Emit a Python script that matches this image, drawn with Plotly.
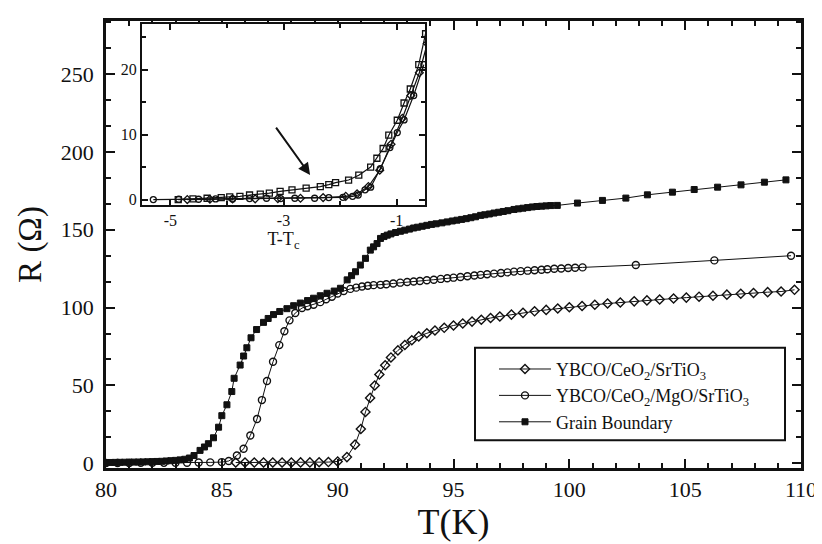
import plotly.graph_objects as go

# Grain Boundary (filled squares)
gb_T = [80.0, 80.2, 80.4, 80.6, 80.8, 81.0, 81.2, 81.4, 81.6, 81.8, 82.0, 82.2, 82.4,
        82.6, 82.8, 83.0, 83.2, 83.4, 83.6, 83.8, 84.06, 84.25, 84.42, 84.64, 84.86,
        85.0, 85.22, 85.43, 85.53, 85.79, 85.94, 86.08, 86.26, 86.5, 86.8, 87.0, 87.23,
        87.5, 87.81, 88.1, 88.39, 88.7, 88.96, 89.25, 89.54, 89.85, 90.12, 90.41, 90.6,
        90.77, 90.98, 91.2, 91.41, 91.55, 91.7, 91.85, 92.0, 92.14, 92.3, 92.5, 92.71,
        92.9, 93.1, 93.28, 93.45, 93.65, 93.85, 94.05, 94.25, 94.5, 94.73, 94.95, 95.15,
        95.35, 95.55, 95.75, 95.95, 96.17, 96.35, 96.55, 96.75, 96.95, 97.15, 97.35,
        97.61, 97.8, 98.0, 98.2, 98.4, 98.6, 98.8, 99.0, 99.2, 99.48, 100.35, 101.43,
        102.44, 103.37, 104.45, 105.39, 106.4, 107.41, 108.42, 109.35]
gb_R = [0.5, 0.55, 0.6, 0.65, 0.7, 0.75, 0.8, 0.85, 0.9, 1.0, 1.1, 1.2, 1.3,
        1.5, 1.7, 1.9, 2.2, 2.6, 3.4, 5.0, 8.3, 10.5, 12.6, 16.4, 23.2,
        30.6, 37.6, 46.1, 54.6, 63.1, 68.9, 74.2, 80.6, 85.9, 90.5, 93.0, 95.5,
        97.5, 99.3, 101.2, 102.9, 104.5, 106.0, 107.6, 109.2, 110.6, 112.4, 117.8, 120.5,
        123.0, 127.3, 131.6, 136.9, 139.0, 141.1, 144.4, 145.6, 146.5, 147.3, 148.2, 149.0,
        149.7, 150.4, 151.1, 151.6, 152.2, 152.8, 153.4, 153.8, 154.4, 155.0, 155.6, 156.1,
        156.6, 157.1, 157.7, 158.3, 159.2, 159.6, 160.1, 160.7, 161.2, 161.7, 162.2,
        163.0, 163.4, 163.8, 164.2, 164.6, 164.9, 165.1, 165.3, 165.5, 165.6, 167.1, 168.8,
        170.3, 172.4, 174.1, 175.8, 177.3, 178.8, 180.5, 182.0]

# YBCO/CeO2/MgO/SrTiO3 (open circles)
mg_T = [80.0, 80.5, 81.0, 81.5, 82.0, 82.5, 83.0, 83.5, 84.0, 84.5, 85.0, 85.3,
        85.65, 85.94, 86.23, 86.52, 86.73, 86.95, 87.21, 87.48, 87.7, 87.92, 88.17,
        88.46, 88.7, 88.96, 89.25, 89.5, 89.75, 90.0, 90.26, 90.55, 90.8, 91.05, 91.3,
        91.55, 91.85, 92.1, 92.4, 92.7, 93.0, 93.28, 93.55, 93.85, 94.15, 94.45, 94.73,
        95.0, 95.3, 95.6, 95.9, 96.17, 96.45, 96.75, 97.05, 97.33, 97.61, 97.9, 98.2,
        98.5, 98.8, 99.05, 99.35, 99.65, 99.95, 100.25, 100.57, 102.87, 106.26, 109.57]
mg_R = [0.2, 0.2, 0.2, 0.3, 0.3, 0.3, 0.4, 0.4, 0.5, 0.6, 0.8, 1.5,
        5.0, 9.4, 17.9, 28.5, 40.6, 52.9, 65.2, 75.9, 84.8, 91.8, 96.5,
        99.7, 100.9, 101.8, 103.5, 105.3, 107.0, 109.0, 110.6, 112.0, 112.8, 113.5, 114.0,
        114.4, 114.6, 115.0, 115.5, 116.0, 116.4, 116.7, 117.1, 117.5, 117.9, 118.4, 118.8,
        119.2, 119.6, 120.1, 120.6, 121.0, 121.4, 121.8, 122.2, 122.6, 123.1, 123.4, 123.7,
        124.0, 124.3, 124.6, 124.9, 125.1, 125.4, 125.6, 125.8, 127.3, 130.3, 133.3]

# YBCO/CeO2/SrTiO3 (open diamonds)
sr_T = [85.6, 86.0, 86.4, 86.8, 87.2, 87.6, 88.0, 88.4, 88.8, 89.2, 89.6, 90.0,
        90.4, 90.75, 91.0, 91.2, 91.4, 91.6, 91.8, 92.05, 92.3, 92.6, 92.9, 93.2,
        93.5, 93.85, 94.2, 94.6, 95.0, 95.4, 95.8, 96.2, 96.6, 97.0, 97.5, 98.0,
        98.5, 99.0, 99.5, 100.0, 100.55, 101.1, 101.65, 102.2, 102.8, 103.35, 103.9,
        104.5, 105.05, 105.6, 106.2, 106.8, 107.4, 107.95, 108.56, 109.14, 109.72]
sr_R = [0.5, 0.5, 0.5, 0.5, 0.5, 0.5, 0.5, 0.6, 0.6, 0.7, 0.8, 1.2,
        4.0, 12.0, 22.0, 33.0, 42.0, 50.0, 57.0, 63.0, 68.0, 72.5, 76.0, 79.0,
        81.5, 83.5, 85.3, 87.0, 88.5, 89.8, 91.0, 92.2, 93.3, 94.3, 95.5, 96.6,
        97.6, 98.5, 99.4, 100.2, 101.0, 101.8, 102.6, 103.3, 104.0, 104.6, 105.2,
        105.8, 106.4, 107.0, 107.6, 108.3, 108.9, 109.4, 109.9, 110.3, 111.4]

# inset: R vs T-Tc
in_sq_x = [-4.86, -4.6, -4.35, -4.1, -3.95, -3.77, -3.6, -3.41, -3.25, -3.06, -2.85,
           -2.6, -2.35, -2.2, -2.08, -1.85, -1.67, -1.46, -1.35, -1.24, -1.14, -0.99,
           -0.87, -0.76, -0.61, -0.49]
in_sq_y = [0.0, 0.1, 0.2, 0.3, 0.4, 0.5, 0.7, 0.85, 1.0, 1.25, 1.5,
           1.75, 2.0, 2.3, 2.6, 3.0, 3.75, 5.0, 6.35, 7.85, 9.9, 12.2,
           14.85, 17.0, 20.75, 25.5]
in_ci_x = [-5.3, -4.85, -4.5, -4.2, -3.9, -3.6, -3.3, -3.05, -2.8, -2.45, -2.2,
           -1.95, -1.78, -1.68, -1.56, -1.46, -1.29, -1.12, -0.99, -0.87, -0.7, -0.52]
in_ci_y = [0.0, 0.05, 0.05, 0.1, 0.1, 0.15, 0.2, 0.15, 0.2, 0.2, 0.3,
           0.35, 0.5, 0.7, 1.5, 1.9, 4.75, 8.0, 10.3, 12.25, 16.0, 20.75]
in_di_x = [-4.7, -4.3, -3.9, -3.5, -3.1, -2.7, -2.3, -1.9, -1.7, -1.5, -1.3,
           -1.1, -0.9, -0.75, -0.6, -0.46]
in_di_y = [0.0, 0.05, 0.1, 0.1, 0.15, 0.2, 0.3, 0.5, 0.9, 2.0, 4.5,
           8.5, 12.5, 16.0, 19.5, 24.0]

FONT = "Liberation Serif, Times New Roman, serif"
BLACK = "#111111"

# plot area in page pixels (page has an 8px body margin)
PL, PR, PT, PB = 106, 801, 18, 468
W, H = PR - PL, PB - PT


def px(xp):
    return (xp - PL) / W


def py(yp):
    return (PB - yp) / H


fig = go.Figure()

fig.add_trace(go.Scatter(
    x=sr_T, y=sr_R, mode="lines+markers", name="YBCO/CeO<sub>2</sub>/SrTiO<sub>3</sub>",
    line=dict(color=BLACK, width=1),
    marker=dict(symbol="diamond-open", size=7, color=BLACK, line=dict(width=1.4))))
fig.add_trace(go.Scatter(
    x=mg_T, y=mg_R, mode="lines+markers", name="YBCO/CeO<sub>2</sub>/MgO/SrTiO<sub>3</sub>",
    line=dict(color=BLACK, width=1),
    marker=dict(symbol="circle-open", size=7, color=BLACK, line=dict(width=1.4))))
fig.add_trace(go.Scatter(
    x=gb_T, y=gb_R, mode="lines+markers", name="Grain Boundary",
    line=dict(color=BLACK, width=1),
    marker=dict(symbol="square", size=6, color=BLACK, line=dict(width=1, color=BLACK))))

# inset traces
for xs, ys, sym in [(in_di_x, in_di_y, "diamond-open"),
                    (in_ci_x, in_ci_y, "circle-open"),
                    (in_sq_x, in_sq_y, "square-open")]:
    fig.add_trace(go.Scatter(
        x=xs, y=ys, mode="lines+markers", xaxis="x2", yaxis="y2", showlegend=False,
        line=dict(color=BLACK, width=1.2),
        marker=dict(symbol=sym, size=6, color=BLACK, line=dict(width=1.3))))

axis_common = dict(showline=True, linecolor=BLACK, linewidth=2.5, mirror="allticks",
                   ticks="inside", tickcolor=BLACK, tickwidth=2, showgrid=False,
                   zeroline=False)
inset_common = dict(showline=True, linecolor=BLACK, linewidth=2, mirror="allticks",
                    ticks="inside", tickcolor=BLACK, tickwidth=1.5, showgrid=False,
                    zeroline=False, ticklen=6, tickfont=dict(size=16))

fig.update_layout(
    width=822, height=544,
    margin=dict(l=PL - 8, r=822 - (PR - 8), t=PT - 8, b=544 - (PB - 8)),
    paper_bgcolor="white", plot_bgcolor="white",
    font=dict(family=FONT, color=BLACK, size=20),
    xaxis=dict(range=[80, 110], tickvals=[80, 85, 90, 95, 100, 105, 110], ticklen=9,
               minor=dict(dtick=1, ticklen=5, tickwidth=1.5, ticks="inside", tickcolor=BLACK),
               tickfont=dict(size=22), **axis_common,
               title=dict(text="T(K)", font=dict(size=36), standoff=2)),
    yaxis=dict(range=[-3, 284], tickvals=[0, 50, 100, 150, 200, 250], ticklen=9,
               minor=dict(dtick=50 / 3, ticklen=5, tickwidth=1.5, ticks="inside", tickcolor=BLACK),
               tickfont=dict(size=22), ticklabelstandoff=5, **axis_common,
               title=dict(text="R (Ω)", font=dict(size=33), standoff=10)),
    xaxis2=dict(domain=[px(142), px(425)], anchor="y2",
                range=[-5.5, -0.5], tickvals=[-5, -3, -1], ticktext=["-5", "-3", "-1"],
                minor=dict(dtick=1, ticklen=4, ticks="inside", tickcolor=BLACK),
                **inset_common,
                title=dict(text="T-T<sub>c</sub>", font=dict(size=18), standoff=4)),
    yaxis2=dict(domain=[py(203), py(21)], anchor="x2",
                range=[-0.8, 27], tickvals=[0, 10, 20],
                minor=dict(dtick=5, ticklen=4, ticks="inside", tickcolor=BLACK),
                **inset_common),
    legend=dict(x=px(494), y=py(350), xanchor="left", yanchor="top",
                bgcolor="rgba(0,0,0,0)", borderwidth=0,
                font=dict(size=18, family=FONT), itemwidth=52),
    showlegend=True,
    shapes=[dict(type="rect", xref="paper", yref="paper", layer="above",
                 x0=px(475), x1=px(785), y0=py(440), y1=py(347),
                 fillcolor="white", line=dict(color=BLACK, width=2))],
)

# arrow inside the inset
fig.add_annotation(x=-2.53, y=3.77, ax=-3.15, ay=11.3, xref="x2", yref="y2",
                   axref="x2", ayref="y2", text="", showarrow=True,
                   arrowhead=2, arrowsize=1.2, arrowwidth=2, arrowcolor=BLACK)

fig.write_html("out.html")
